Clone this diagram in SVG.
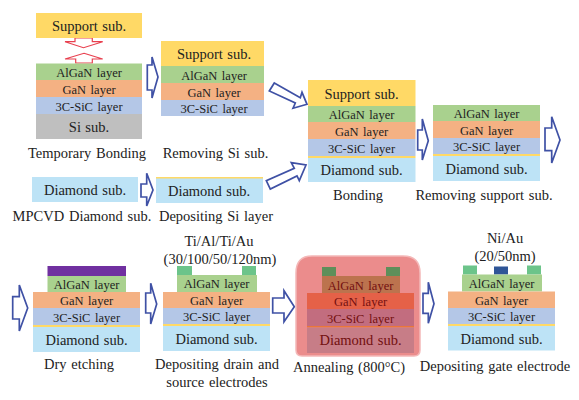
<svg xmlns="http://www.w3.org/2000/svg" width="579" height="400" viewBox="0 0 579 400">
<style>
text{font-family:"Liberation Serif","Times New Roman",serif;fill:#222;text-anchor:middle}
.s{font-size:14.5px;word-spacing:.8px}
.l{font-size:12.5px;word-spacing:1.5px}
.c{font-size:14.5px;word-spacing:1.1px}
.sup{fill:#ffd966}.alg{fill:#a9d18e}.gan{fill:#f4b183}.sic{fill:#b4c7e7}.si{fill:#bfbfbf}.dia{fill:#bde3f6}.yel{fill:#ffd966}.pur{fill:#7030a0}.ele{fill:#6cc48a}.gate{fill:#2f5597}.ann{fill:#5e8f5a}
.arr{fill:#fff;stroke:#3f51a5;stroke-width:1.7;stroke-linejoin:miter}
.red{fill:#fff;stroke:#e8404f;stroke-width:1.2}
</style>
<rect width="579" height="400" fill="#fff"/>
<g id="connectors">
<polygon class="red" points="75,38 92.3,38 92.3,41.7 102.7,41.7 83.5,47.7 65,41.7 75,41.7"/>
<polygon class="red" points="84,53.3 102.7,59 92.3,59 92.3,63 75.7,63 75.7,59 65,59"/>
<polygon class="arr" points="147.3,65 152,65 152,57 158,77 152,98 152,90 147.3,90"/>
<polygon class="arr" points="141,184 146.7,184 146.7,173.3 153,190 146.7,206 146.7,197 141,197"/>
<polygon class="arr" points="274.3,83 300.3,97.7 302,92.3 307,104.3 293,108.3 295.3,103 269.3,91"/>
<polygon class="arr" points="266.3,180.7 270.3,189 297,176 299.3,180.7 306,165 291.3,162.7 294.3,168.3"/>
<polygon class="arr" points="417.7,130 422.3,130 422.3,119 428.3,140.7 422.3,160 422.3,150 417.7,150"/>
<polygon class="arr" points="545,128 551.7,128 551.7,116.7 560,140 551.7,163 551.7,150.7 545,150.7"/>
<polygon class="arr" points="12.7,296.7 19.3,296.7 19.3,285 27.7,308 19.3,331 19.3,319 12.7,319"/>
<polygon class="arr" points="145.7,293 150.7,293 150.7,283.3 156.7,304 150.7,324 150.7,313 145.7,313"/>
<polygon class="arr" points="272.7,298 284,298 284,290.7 294.3,306.7 284,321.7 284,313 272.7,313"/>
<polygon class="arr" points="423,293.3 428.3,293.3 428.3,282.3 434,303.7 428.3,323.3 428.3,313.3 423,313.3"/>
</g>
<g id="temporary-bonding">
<rect class="sup" x="36" y="13" width="106" height="25"/>
<rect class="alg" x="36" y="63.500" width="106" height="16.500"/>
<rect class="gan" x="36" y="80" width="106" height="17"/>
<rect class="sic" x="36" y="97" width="106" height="17"/>
<rect class="si" x="36" y="114" width="106" height="25"/>
<text class="s" x="89" y="31">Support sub.</text>
<text class="l" x="89" y="77">AlGaN layer</text>
<text class="l" x="89" y="94">GaN layer</text>
<text class="l" x="89" y="111">3C-SiC layer</text>
<text class="s" x="89" y="132">Si sub.</text>
<text class="c" x="87" y="158">Temporary Bonding</text>
</g>
<g id="removing-si">
<rect class="sup" x="161" y="41" width="103" height="25"/>
<rect class="alg" x="161" y="66" width="103" height="17"/>
<rect class="gan" x="161" y="83" width="103" height="17"/>
<rect class="sic" x="161" y="100" width="103" height="16"/>
<text class="s" x="214" y="59">Support sub.</text>
<text class="l" x="214" y="79.500">AlGaN layer</text>
<text class="l" x="214" y="96.500">GaN layer</text>
<text class="l" x="214" y="113">3C-SiC layer</text>
<text class="c" x="215.500" y="158">Removing Si sub.</text>
</g>
<g id="mpcvd">
<rect class="dia" x="32" y="177" width="106" height="25"/>
<text class="s" x="85" y="195">Diamond sub.</text>
<text class="c" x="82" y="221">MPCVD Diamond sub.</text>
</g>
<g id="depositing-si">
<rect class="dia" x="156" y="178" width="107" height="25"/>
<rect class="yel" x="156" y="177" width="107" height="1.500"/>
<text class="s" x="209" y="196">Diamond sub.</text>
<text class="c" x="216" y="221">Depositing Si layer</text>
</g>
<g id="bonding">
<rect class="sup" x="308" y="80" width="107.500" height="26"/>
<rect class="alg" x="308" y="106" width="107.500" height="16"/>
<rect class="gan" x="308" y="122" width="107.500" height="17"/>
<rect class="sic" x="308" y="139" width="107.500" height="17"/>
<rect class="yel" x="308" y="156" width="107.500" height="2"/>
<rect class="dia" x="308" y="158" width="107.500" height="24"/>
<text class="s" x="361.500" y="99">Support sub.</text>
<text class="l" x="361.500" y="119">AlGaN layer</text>
<text class="l" x="361.500" y="136">GaN layer</text>
<text class="l" x="361.500" y="153">3C-SiC layer</text>
<text class="s" x="361.500" y="175">Diamond sub.</text>
<text class="c" x="358" y="200">Bonding</text>
</g>
<g id="removing-support">
<rect class="alg" x="433" y="105" width="107" height="16"/>
<rect class="gan" x="433" y="121" width="107" height="17"/>
<rect class="sic" x="433" y="138" width="107" height="16"/>
<rect class="yel" x="433" y="154" width="107" height="2"/>
<rect class="dia" x="433" y="156" width="107" height="25"/>
<text class="l" x="486.500" y="118">AlGaN layer</text>
<text class="l" x="486.500" y="135">GaN layer</text>
<text class="l" x="486.500" y="151">3C-SiC layer</text>
<text class="s" x="486.500" y="174">Diamond sub.</text>
<text class="c" x="484" y="200">Removing support sub.</text>
</g>
<g id="dry-etching">
<rect class="pur" x="47.500" y="266" width="78.500" height="10"/>
<rect class="alg" x="47.500" y="276" width="78.500" height="16"/>
<rect class="gan" x="33" y="292" width="107" height="16"/>
<rect class="sic" x="33" y="308" width="107" height="17"/>
<rect class="yel" x="33" y="325" width="107" height="2"/>
<rect class="dia" x="33" y="327" width="107" height="25"/>
<text class="l" x="86.500" y="289">AlGaN layer</text>
<text class="l" x="86.500" y="305">GaN layer</text>
<text class="l" x="86.500" y="322">3C-SiC layer</text>
<text class="s" x="86.500" y="345">Diamond sub.</text>
<text class="c" x="79" y="369">Dry etching</text>
</g>
<g id="drain-source">
<text class="c" x="219" y="246">Ti/Al/Ti/Au</text>
<text class="c" x="220" y="264">(30/100/50/120nm)</text>
<rect class="ele" x="177" y="266" width="15" height="9"/>
<rect class="ele" x="242" y="266" width="14" height="9"/>
<rect class="alg" x="177" y="275" width="80" height="17"/>
<rect class="gan" x="163" y="292" width="107" height="16"/>
<rect class="sic" x="163" y="308" width="107" height="16"/>
<rect class="yel" x="163" y="324" width="107" height="2"/>
<rect class="dia" x="163" y="326" width="107" height="25"/>
<text class="l" x="216.500" y="288">AlGaN layer</text>
<text class="l" x="216.500" y="305">GaN layer</text>
<text class="l" x="216.500" y="321">3C-SiC layer</text>
<text class="s" x="216.500" y="344">Diamond sub.</text>
<text class="c" x="217" y="369">Depositing drain and</text>
<text class="c" x="217" y="387">source electrodes</text>
</g>
<g id="annealing">
<rect class="alg" x="322" y="276" width="78" height="17"/>
<rect class="gan" x="307" y="293" width="107" height="16"/>
<rect class="sic" x="307" y="309" width="107" height="17"/>
<rect class="yel" x="307" y="326" width="107" height="1.500"/>
<rect class="dia" x="307" y="327.500" width="107" height="25.500"/>
<text class="l" x="360.500" y="290">AlGaN layer</text>
<text class="l" x="360.500" y="306">GaN layer</text>
<text class="l" x="360.500" y="323">3C-SiC layer</text>
<text class="s" x="360.500" y="345">Diamond sub.</text>
<path d="M312 256H403Q420 256 420 273V350Q420 356 414 356H302Q296 356 296 350V273Q296 256 312 256Z" fill="#d20000" fill-opacity=".45" stroke="#f4b8b8" stroke-width="1.500"/>
<rect class="ann" x="322" y="267" width="14" height="9"/>
<rect class="ann" x="386" y="267" width="14" height="9"/>
<text class="c" x="349" y="372">Annealing (800°C)</text>
</g>
<g id="gate">
<text class="c" x="505" y="243">Ni/Au</text>
<text class="c" x="505" y="261">(20/50nm)</text>
<rect class="ele" x="463" y="265.500" width="14" height="9"/>
<rect class="gate" x="494" y="266.500" width="14" height="8"/>
<rect class="ele" x="527" y="265.500" width="14" height="9"/>
<rect class="alg" x="462" y="274.500" width="80" height="17"/>
<rect class="gan" x="448" y="291.500" width="107" height="16.500"/>
<rect class="sic" x="448" y="308" width="107" height="16"/>
<rect class="yel" x="448" y="324" width="107" height="2"/>
<rect class="dia" x="448" y="326" width="107" height="24.500"/>
<text class="l" x="501.500" y="288">AlGaN layer</text>
<text class="l" x="501.500" y="305">GaN layer</text>
<text class="l" x="501.500" y="321">3C-SiC layer</text>
<text class="s" x="501.500" y="344">Diamond sub.</text>
<text class="c" x="495" y="371">Depositing gate electrode</text>
</g>
</svg>
